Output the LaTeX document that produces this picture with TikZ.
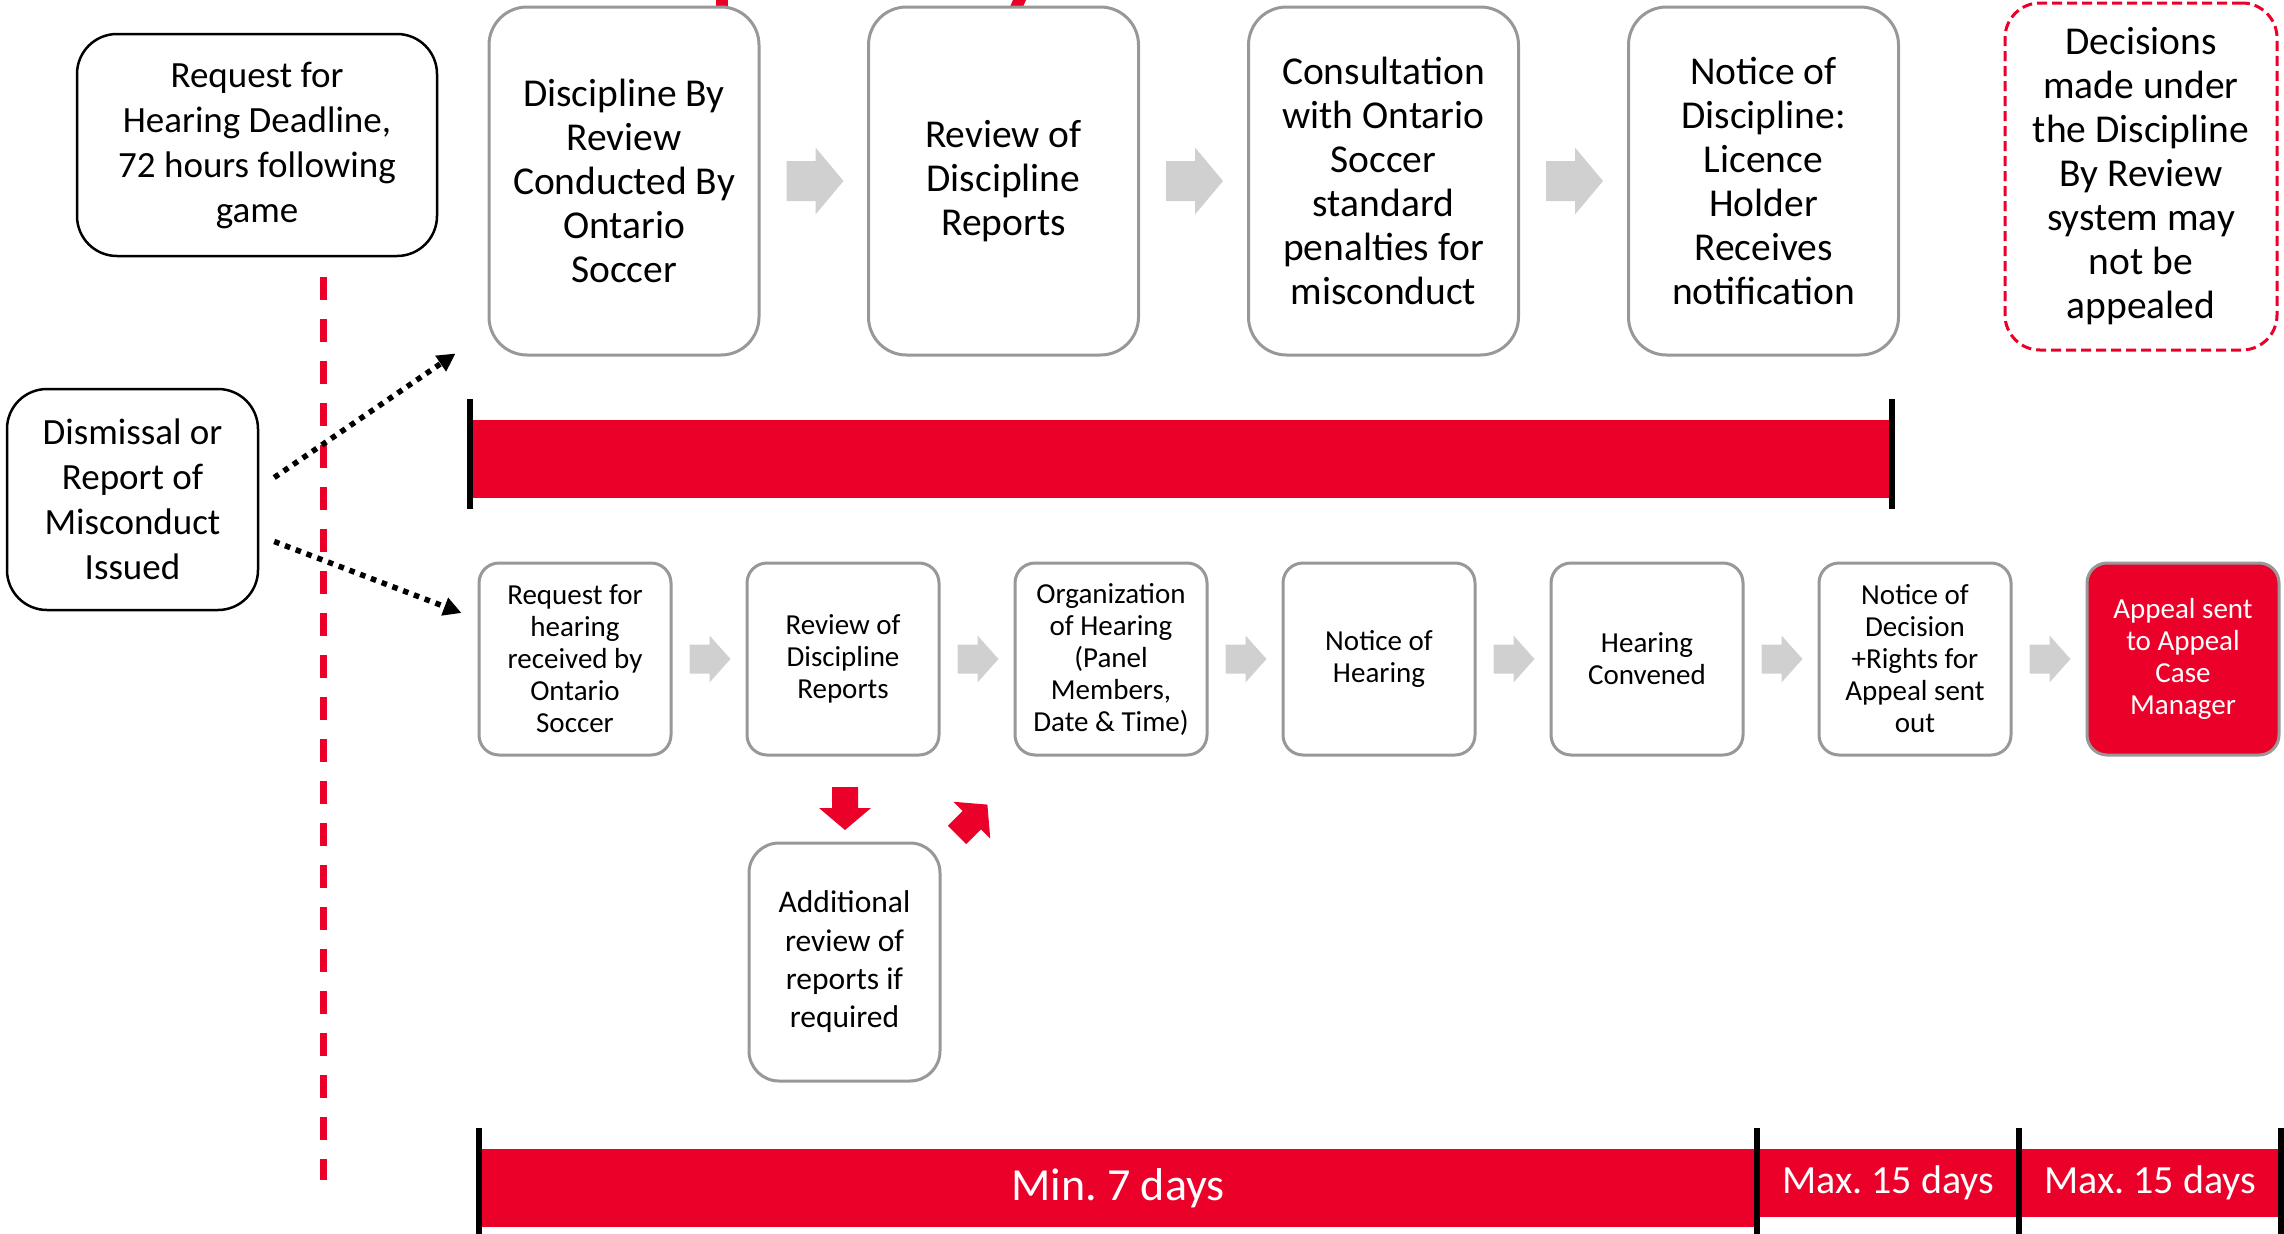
\documentclass[tikz,border=0pt]{standalone}
\usepackage{fontspec}
\setmainfont{Carlito}
\frenchspacing
\usetikzlibrary{calc,arrows.meta}
\definecolor{odred}{RGB}{234,0,41}
\definecolor{boxgray}{RGB}{152,152,152}
\definecolor{arrgray}{RGB}{208,208,208}
\tikzset{
  pics/garrow/.style args={#1/#2/#3/#4}{code={\fill[arrgray] (0,-#2) -- (#1,-#2) -- (#1,-#4) -- ({#1+#3},0) -- (#1,#4) -- (#1,#2) -- (0,#2) -- cycle;}},
  pics/redarr/.style={code={\fill[odred] (0,-13) -- (21,-13) -- (21,-26) -- (43,0) -- (21,26) -- (21,13) -- (0,13) -- cycle;}},
  topbox/.style={draw=boxgray, line width=3pt, rounded corners=38pt, fill=white, minimum width=270pt, minimum height=348pt, align=center, inner sep=0pt, font=\fontsize{39.5}{44}\selectfont},
  botbox/.style={draw=boxgray, line width=3pt, rounded corners=20pt, fill=white, minimum width=192pt, minimum height=192pt, align=center, inner sep=0pt, font=\fontsize{29}{32}\selectfont},
  blackbox/.style={draw=black, line width=2.5pt, rounded corners=40pt, fill=white, align=center, inner sep=0pt, font=\fontsize{37}{45}\selectfont},
  decbox/.style={draw=odred, line width=3pt, dash pattern=on 10pt off 5pt, rounded corners=35pt, minimum width=272pt, minimum height=347pt, align=center, inner sep=0pt, font=\fontsize{39.5}{44}\selectfont},
  barnode/.style={fill=odred, inner sep=0pt, text=white, font=\fontsize{40}{48}\selectfont},
  tick/.style={line width=6pt, draw=black},
  dotarrow/.style={line width=5.5pt, dash pattern=on 5.5pt off 6pt, -{Triangle[length=18pt,width=18pt]}}
}
\begin{document}
\begin{tikzpicture}[x=1pt,y=-1pt]
\useasboundingbox (0,0) rectangle (2284,1234);

% fragments at top edge
\fill[odred] (716,0) rectangle (728,9);
\fill[odred] (1013,0) -- (1026,0) -- (1022,9) -- (1009,9) -- cycle;

% top row
\node[topbox] (t1) at (624,181) {Discipline By\\Review\\Conducted By\\Ontario\\Soccer};
\node[topbox] (t2) at (1003.5,181) {Review of\\Discipline\\Reports};
\node[topbox] (t3) at (1383.5,181) {Consultation\\with Ontario\\Soccer\\standard\\penalties for\\misconduct};
\node[topbox] (t4) at (1763.5,181) {Notice of\\Discipline:\\Licence\\Holder\\Receives\\notification};
\node[decbox] (dec) at (2141,176.5) {Decisions\\made under\\the Discipline\\By Review\\system may\\not be\\appealed};

\pic at ($(t1.east)+(26,0)$) {garrow=29/20/28/33.5};
\pic at ($(t2.east)+(26,0)$) {garrow=29/20/28/33.5};
\pic at ($(t3.east)+(26,0)$) {garrow=29/20/28/33.5};

% left boxes
\node[blackbox, minimum width=360pt, minimum height=222pt] (req) at (257,145) {Request for\\Hearing Deadline,\\72 hours following\\game};
\node[blackbox, minimum width=251pt, minimum height=221pt] (dis) at (132.5,499.5) {Dismissal or\\Report of\\Misconduct\\Issued};

% red dashed vertical
\draw[odred, line width=7pt, dash pattern=on 23pt off 19pt] (323,277) -- (323,1180);

% top bar
\node[barnode, minimum width=1416pt, minimum height=78pt] (topbar) at (1181,459) {};
\draw[tick] (topbar.north west) ++(-3,-21) -- ++(0,110);
\draw[tick] (topbar.north east) ++(3,-21) -- ++(0,110);

% bottom row
\node[botbox] (b1) at (575,659) {Request for\\hearing\\received by\\Ontario\\Soccer};
\node[botbox] (b2) at (843,659) {Review of\\Discipline\\Reports};
\node[botbox] (b3) at (1111,659) {Organization\\of Hearing\\(Panel\\Members,\\Date \& Time)};
\node[botbox] (b4) at (1379,659) {Notice of\\Hearing};
\node[botbox] (b5) at (1647,659) {Hearing\\Convened};
\node[botbox] (b6) at (1915,659) {Notice of\\Decision\\+Rights for\\Appeal sent\\out};
\node[botbox, fill=odred, text=white] (b7) at (2183,659) {Appeal sent\\to Appeal\\Case\\Manager};

\foreach \i/\j in {b1/b2,b2/b3,b3/b4,b4/b5,b5/b6,b6/b7}
  \pic at ($(\i.east)+(17,0)$) {garrow=20/14.5/21/23.5};

% additional review
\node[botbox, minimum width=191pt, minimum height=238pt, rounded corners=30pt, font=\fontsize{31.5}{38.3}\selectfont] (add) at (844.5,962) {Additional\\review of\\reports if\\required};
\pic[rotate=-90] at (845,787) {redarr};
\pic[rotate=45] at (957,835) {redarr};

% dotted arrows
\draw[dotarrow] ($(dis.east)+(15,-22)$) -- ($(t1.south west)+(-32,-3)$);
\draw[dotarrow] ($(dis.east)+(15,42)$) -- ($(b1.west)+(-16,-46)$);

% bottom timeline
\node[barnode, minimum width=1272pt, minimum height=78pt, font=\fontsize{46}{52}\selectfont] (min7) at (1118,1188) {Min. 7 days};
\node[barnode, minimum width=256pt, minimum height=68pt] (max1) at (1888,1183) {Max. 15 days};
\node[barnode, minimum width=256pt, minimum height=68pt] (max2) at (2150,1183) {Max. 15 days};
\draw[tick] (479,1128) -- (479,1240);
\draw[tick] (1757,1128) -- (1757,1240);
\draw[tick] (2019,1128) -- (2019,1240);
\draw[tick] (2281,1128) -- (2281,1240);
\end{tikzpicture}
\end{document}
